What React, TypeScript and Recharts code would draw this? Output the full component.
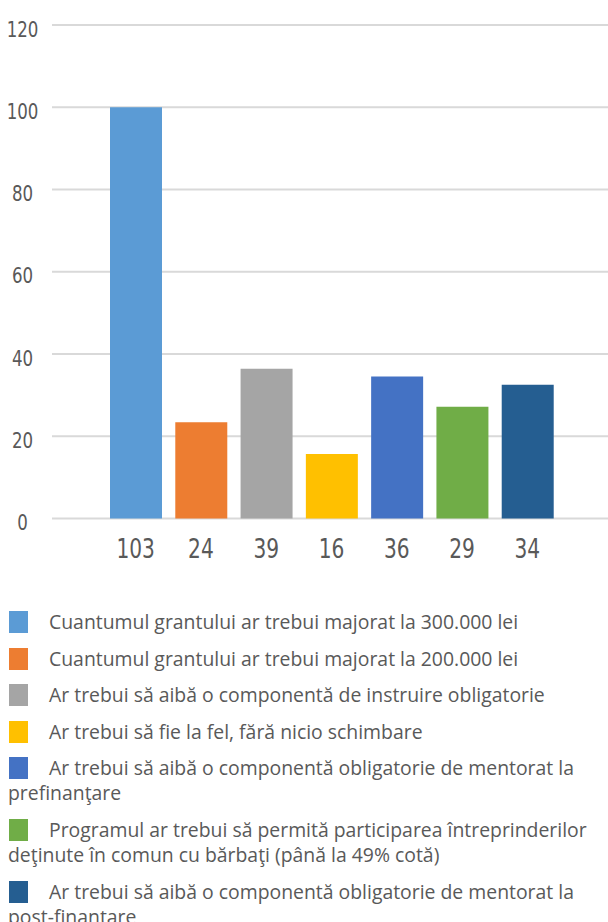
import { Bar, BarChart, CartesianGrid, Cell, XAxis, YAxis } from "recharts"

const counts = ["103", "24", "39", "16", "36", "29", "34"]
const heights = [100, 23.4, 36.4, 15.7, 34.5, 27.2, 32.5]
const labels = [
  "Cuantumul grantului ar trebui majorat la 300.000 lei",
  "Cuantumul grantului ar trebui majorat la 200.000 lei",
  "Ar trebui să aibă o componentă de instruire obligatorie",
  "Ar trebui să fie la fel, fără nicio schimbare",
  "Ar trebui să aibă o componentă obligatorie de mentorat la prefinanţare",
  "Programul ar trebui să permită participarea întreprinderilor deţinute în comun cu bărbaţi (până la 49% cotă)",
  "Ar trebui să aibă o componentă obligatorie de mentorat la post-finanţare",
]
const colors = ["#5B9BD5", "#ED7D31", "#A5A5A5", "#FFC000", "#4472C4", "#70AD47", "#255E91"]
const yTicks = [0, 20, 40, 60, 80, 100, 120]

const data = counts.map((c, i) => ({ name: c, value: heights[i] }))

const tickFont = "'Liberation Sans Narrow', 'DejaVu Sans Condensed', sans-serif"

// narrow digits like the original (Calibri-ish)
function XTick(props: any) {
  const { x, y, payload } = props
  return (
    <text
      transform={`translate(${x},${y + 31.5}) scale(0.83,1)`}
      textAnchor="middle"
      fill="#595959"
      fontSize={27}
      fontFamily={tickFont}
    >
      {payload.value}
    </text>
  )
}

function YTick(props: any) {
  const { y, payload } = props
  return (
    <text
      transform={`translate(22.5,${y + 11.5}) scale(0.88,1)`}
      textAnchor="middle"
      fill="#595959"
      fontSize={21}
      fontFamily={tickFont}
    >
      {payload.value}
    </text>
  )
}

export default function App() {
  return (
    <div style={{ position: "absolute", left: 0, top: 0, width: 608, background: "#fff" }}>
      <BarChart
        width={608}
        height={580}
        data={data}
        margin={{ top: 25, right: 0, bottom: 31.5, left: 0 }}
      >
        <CartesianGrid vertical={false} stroke="#d9d9d9" strokeWidth={2} />
        <XAxis
          dataKey="name"
          axisLine={false}
          tickLine={false}
          padding={{ left: 51, right: 48 }}
          tick={<XTick />}
          interval={0}
        />
        <YAxis
          width={52}
          domain={[0, 120]}
          ticks={yTicks}
          axisLine={false}
          tickLine={false}
          tick={<YTick />}
        />
        <Bar dataKey="value" barSize={52} isAnimationActive={false}>
          {data.map((d, i) => (
            <Cell key={d.name} fill={colors[i]} />
          ))}
        </Bar>
      </BarChart>
      <div
        style={{
          position: "absolute",
          left: 8,
          top: 609,
          width: 594,
          fontFamily: "'Open Sans', sans-serif",
          fontSize: 19.4,
          lineHeight: "25px",
          color: "#595959",
        }}
      >
        {labels.map((l, i) => (
          <div key={l} style={{ marginBottom: 11.6 }}>
            <span
              style={{
                display: "inline-block",
                width: 19,
                height: 22,
                marginLeft: 1,
                marginRight: 21,
                verticalAlign: -4,
                background: colors[i],
              }}
            />
            {l}
          </div>
        ))}
      </div>
    </div>
  )
}
